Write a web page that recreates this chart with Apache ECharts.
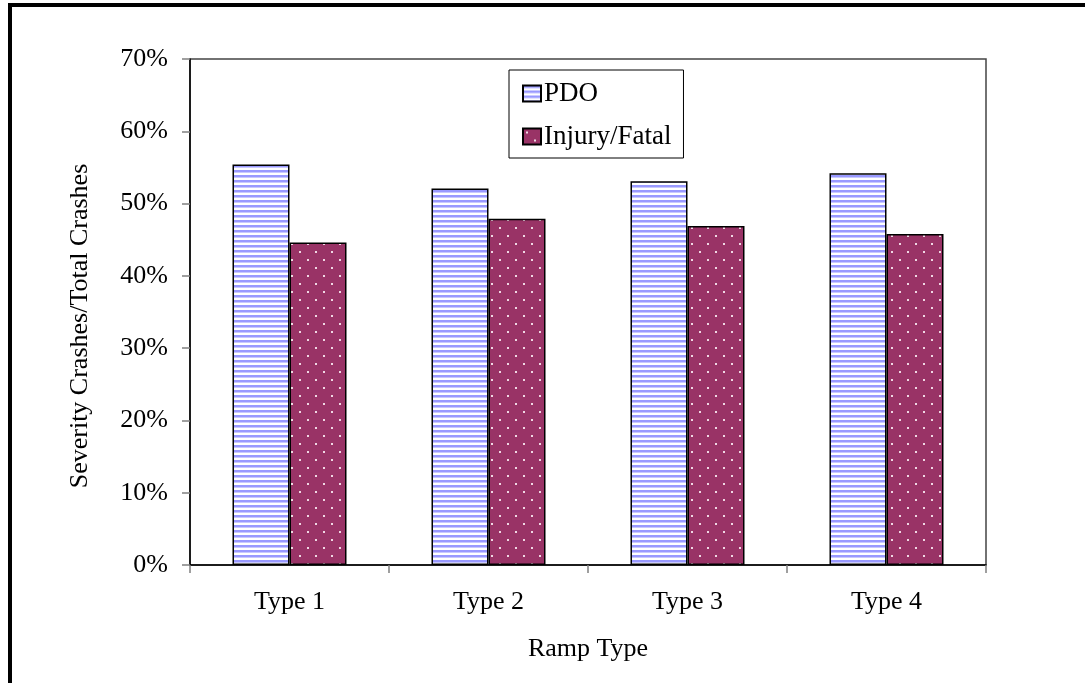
<!DOCTYPE html>
<html><head><meta charset="utf-8">
<script src="https://cdn.jsdelivr.net/npm/echarts@6/dist/echarts.min.js"></script>
<style>html,body{margin:0;padding:0;background:#fff}#c{width:1085px;height:683px}</style>
</head><body><div id="c"></div>
<script>
var categories = ['Type 1', 'Type 2', 'Type 3', 'Type 4'];
var pdoValues = [55.4, 52.1, 53.1, 54.2];
var injuryValues = [44.6, 47.9, 46.9, 45.8];
var seriesNames = ['PDO', 'Injury/Fatal'];

function stripePattern() {
  var c = document.createElement('canvas'); c.width = 8; c.height = 5;
  var g = c.getContext('2d');
  g.fillStyle = '#ffffff'; g.fillRect(0, 0, 8, 5);
  g.fillStyle = '#9999ff'; g.fillRect(0, 0, 8, 2);
  g.fillStyle = '#c8c8ff'; g.fillRect(0, 2, 8, 1);
  return c;
}
function dotPattern() {
  var c = document.createElement('canvas'); c.width = 16; c.height = 16;
  var g = c.getContext('2d');
  g.fillStyle = '#993366'; g.fillRect(0, 0, 16, 16);
  g.fillStyle = '#f0d8e4';
  g.fillRect(3, 3, 2, 2); g.fillRect(11, 11, 2, 2);
  return c;
}
var font = 'Liberation Serif';
var chart = echarts.init(document.getElementById('c'), null, {renderer: 'canvas'});
chart.setOption({
  animation: false,
  backgroundColor: '#ffffff',
  textStyle: {fontFamily: font, color: '#000'},
  graphic: [{type: 'rect', shape: {x: 10, y: 5, width: 1200, height: 800},
    style: {fill: 'none', stroke: '#000', lineWidth: 4}, silent: true}],
  grid: {left: 190, top: 59, right: 99, bottom: 118, show: true,
    borderColor: '#444', borderWidth: 1.5, backgroundColor: 'transparent'},
  legend: {
    orient: 'vertical', left: 509, top: 70,
    padding: [10, 12, 8, 13], itemGap: 16, itemWidth: 18, itemHeight: 16,
    borderColor: '#000', borderWidth: 1, backgroundColor: '#fff',
    textStyle: {fontFamily: font, fontSize: 27, color: '#000', padding: [0, 0, 0, -2]},
    icon: 'rect',
    data: seriesNames
  },
  xAxis: {
    type: 'category', data: categories,
    name: 'Ramp Type', nameLocation: 'middle', nameGap: 71,
    nameTextStyle: {fontFamily: font, fontSize: 26, color: '#000'},
    axisLine: {lineStyle: {color: '#000', width: 1.5}},
    axisTick: {show: true, length: 8, lineStyle: {color: '#808080', width: 1.5}},
    axisLabel: {fontFamily: font, fontSize: 26, color: '#000', margin: 24}
  },
  yAxis: {
    type: 'value', min: 0, max: 70, interval: 10,
    name: 'Severity Crashes/Total Crashes', nameLocation: 'middle', nameGap: 97,
    nameTextStyle: {fontFamily: font, fontSize: 26, color: '#000', padding: [0, 28, 0, 0]},
    axisLine: {show: true, lineStyle: {color: '#000', width: 1.5}},
    axisTick: {show: true, length: 8, lineStyle: {color: '#808080', width: 1.5}},
    axisLabel: {fontFamily: font, fontSize: 26, color: '#000', margin: 22, formatter: '{value}%'},
    splitLine: {show: false}
  },
  series: [
    {name: seriesNames[0], type: 'bar', data: pdoValues, barWidth: 57, barGap: '0%',
     itemStyle: {color: {image: stripePattern(), repeat: 'repeat'}, borderColor: '#000', borderWidth: 1.5}},
    {name: seriesNames[1], type: 'bar', data: injuryValues, barWidth: 57, barGap: '0%',
     itemStyle: {color: {image: dotPattern(), repeat: 'repeat'}, borderColor: '#000', borderWidth: 1.5}}
  ]
});
</script></body></html>
